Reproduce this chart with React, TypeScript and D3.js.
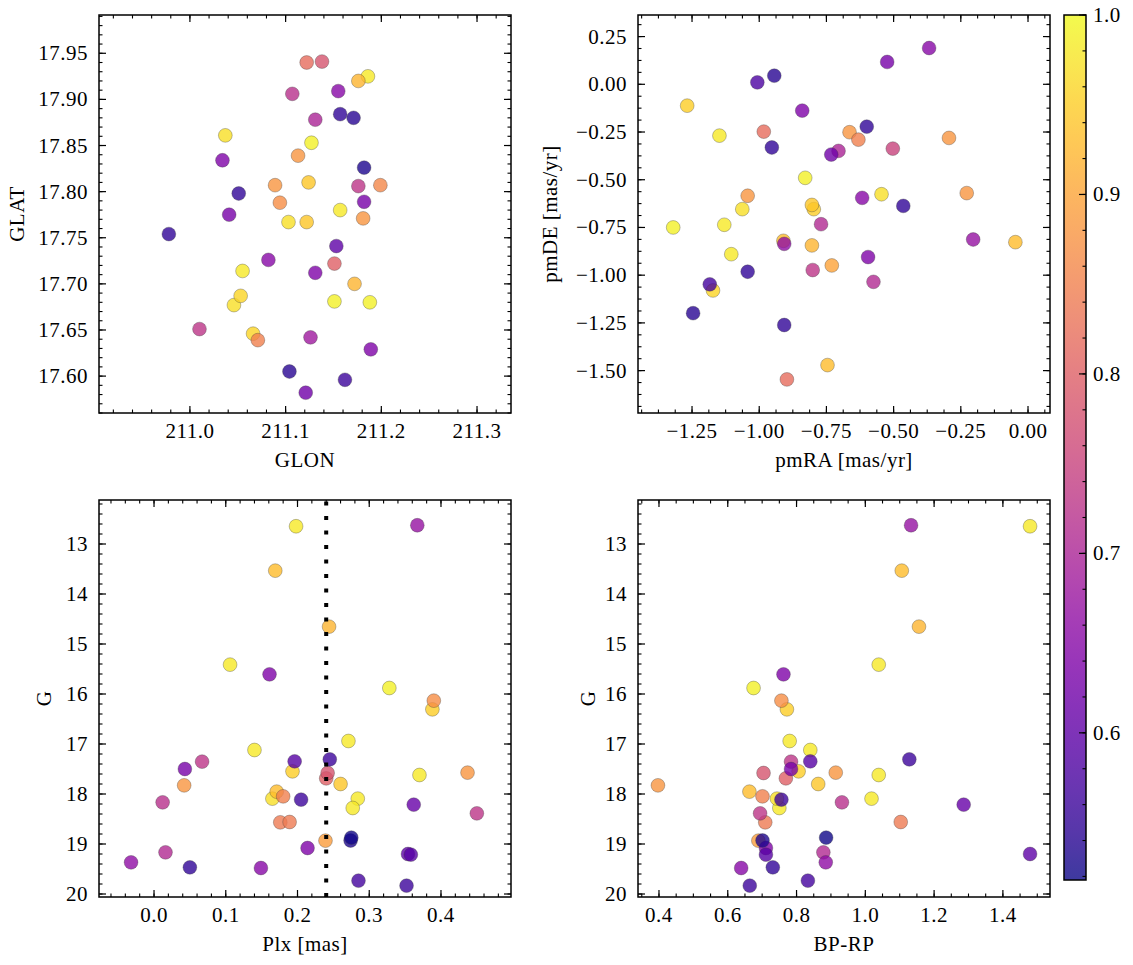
import * as d3 from "d3";

// ---- sky positions (top left) ----
const glon = [
  211.122, 211.138, 211.186, 211.176, 211.107, 211.155, 211.157, 211.171, 211.131, 211.037,
  211.127, 211.113, 211.034, 211.182, 211.089, 211.124, 211.176, 211.199, 211.051, 211.094,
  211.182, 211.041, 211.157, 211.103, 211.122, 211.181, 210.978, 211.153, 211.082, 211.151,
  211.055, 211.131, 211.172, 211.053, 211.046, 211.151, 211.188, 211.01, 211.066, 211.071,
  211.126, 211.189, 211.104, 211.162, 211.121,
];
const glat = [
  17.94, 17.941, 17.925, 17.92, 17.906, 17.909, 17.884, 17.88, 17.878, 17.861,
  17.853, 17.839, 17.834, 17.826, 17.807, 17.81, 17.806, 17.807, 17.798, 17.788,
  17.789, 17.775, 17.78, 17.767, 17.767, 17.771, 17.754, 17.741, 17.726, 17.722,
  17.714, 17.712, 17.7, 17.687, 17.677, 17.681, 17.68, 17.651, 17.646, 17.639,
  17.642, 17.629, 17.605, 17.596, 17.582,
];
const probSky = [
  0.82, 0.78, 0.98, 0.92, 0.72, 0.65, 0.55, 0.54, 0.7, 0.97,
  0.99, 0.88, 0.64, 0.53, 0.88, 0.94, 0.73, 0.86, 0.55, 0.87,
  0.63, 0.63, 0.98, 0.97, 0.94, 0.88, 0.55, 0.6, 0.65, 0.8,
  0.98, 0.64, 0.92, 0.96, 0.97, 0.99, 0.99, 0.73, 0.96, 0.85,
  0.68, 0.64, 0.54, 0.56, 0.62,
];

// ---- proper motions (top right) ----
const pmra = [
  -0.368, -0.524, -0.944, -1.007, -1.268, -0.84, -0.6, -1.148, -0.983, -0.664,
  -0.631, -0.294, -0.953, -0.503, -0.705, -0.732, -0.829, -1.043, -0.545, -0.228,
  -0.617, -0.464, -1.063, -0.804, -0.797, -1.32, -1.13, -0.77, -0.91, -0.907,
  -0.804, -0.204, -0.047, -1.104, -0.595, -0.73, -0.801, -1.043, -0.575, -1.184,
  -1.172, -1.246, -0.907, -0.746, -0.897,
];
const pmde = [
  0.19, 0.117, 0.045, 0.01, -0.112, -0.138, -0.222, -0.269, -0.248, -0.251,
  -0.29, -0.281, -0.331, -0.337, -0.349, -0.368, -0.49, -0.584, -0.576, -0.57,
  -0.595, -0.637, -0.654, -0.632, -0.654, -0.75, -0.736, -0.733, -0.82, -0.836,
  -0.844, -0.813, -0.827, -0.89, -0.905, -0.949, -0.973, -0.982, -1.035, -1.048,
  -1.08, -1.199, -1.261, -1.471, -1.546,
];
const probPm = [
  0.65, 0.63, 0.54, 0.58, 0.95, 0.64, 0.55, 0.98, 0.82, 0.88,
  0.85, 0.88, 0.55, 0.75, 0.7, 0.62, 0.99, 0.88, 0.97, 0.88,
  0.65, 0.55, 0.97, 0.94, 0.95, 0.99, 0.98, 0.71, 0.93, 0.66,
  0.92, 0.67, 0.93, 0.98, 0.64, 0.9, 0.73, 0.55, 0.71, 0.57,
  0.96, 0.54, 0.55, 0.93, 0.82,
];

// ---- photometry / parallax (bottom row, same stars) ----
const plx = [
  0.198, 0.367, 0.169, 0.244, 0.106, 0.161, 0.328, 0.39, 0.388, 0.271,
  0.14, 0.067, 0.196, 0.245, 0.043, 0.193, 0.242, 0.24, 0.37, 0.437,
  0.26, 0.042, 0.171, 0.165, 0.18, 0.205, 0.284, 0.277, 0.012, 0.362,
  0.45, 0.176, 0.189, 0.239, 0.275, 0.274, 0.214, 0.016, 0.354, 0.358,
  -0.032, 0.05, 0.149, 0.285, 0.352,
];
const gmag = [
  12.645, 12.625, 13.533, 14.653, 15.413, 15.607, 15.88, 16.133, 16.307, 16.94,
  17.12, 17.353, 17.347, 17.307, 17.5, 17.547, 17.58, 17.687, 17.62, 17.573,
  17.8, 17.827, 17.953, 18.093, 18.047, 18.113, 18.093, 18.28, 18.167, 18.213,
  18.387, 18.567, 18.56, 18.933, 18.873, 18.93, 19.08, 19.167, 19.2, 19.213,
  19.367, 19.467, 19.48, 19.733, 19.833,
];
const bprp = [
  1.479, 1.133, 1.106, 1.156, 1.039, 0.762, 0.675, 0.756, 0.772, 0.78,
  0.84, 0.784, 0.84, 1.128, 0.784, 0.806, 0.704, 0.769, 1.039, 0.914,
  0.863, 0.397, 0.663, 0.743, 0.701, 0.756, 1.018, 0.75, 0.932, 1.286,
  0.694, 0.709, 1.103, 0.689, 0.886, 0.701, 0.711, 0.878, 1.479, 0.711,
  0.885, 0.731, 0.639, 0.833, 0.664,
];
const probCmd = [
  0.98, 0.67, 0.93, 0.92, 0.98, 0.64, 0.99, 0.87, 0.95, 0.98,
  0.98, 0.73, 0.59, 0.56, 0.63, 0.95, 0.78, 0.8, 0.98, 0.88,
  0.94, 0.88, 0.93, 0.97, 0.85, 0.56, 0.98, 0.98, 0.72, 0.61,
  0.73, 0.84, 0.84, 0.89, 0.52, 0.53, 0.64, 0.71, 0.6, 0.59,
  0.66, 0.55, 0.65, 0.57, 0.56,
];

const plxCut = 0.24;

const glonTicks = [211.0, 211.1, 211.2, 211.3];
const glatTicks = [17.6, 17.65, 17.7, 17.75, 17.8, 17.85, 17.9, 17.95];
const pmraTicks = [-1.25, -1.0, -0.75, -0.5, -0.25, 0.0];
const pmdeTicks = [-1.5, -1.25, -1.0, -0.75, -0.5, -0.25, 0.0, 0.25];
const plxTicks = [0.0, 0.1, 0.2, 0.3, 0.4];
const gTicks = [13, 14, 15, 16, 17, 18, 19, 20];
const bprpTicks = [0.4, 0.6, 0.8, 1.0, 1.2, 1.4];
const probTicks = [0.6, 0.7, 0.8, 0.9, 1.0];

const PROB_MIN = 0.518;
const PROB_MAX = 1.0;

const FONT = "'Liberation Serif', 'Times New Roman', serif";
const FS = 21;
const LS = 0.5;
const MAJ = 7;
const MIN = 3.5;

const color = d3.scaleSequential(d3.interpolatePlasma).domain([PROB_MIN, PROB_MAX]);

function minorTicks(domain: number[], step: number) {
  const lo = Math.min(domain[0], domain[1]);
  const hi = Math.max(domain[0], domain[1]);
  const out: number[] = [];
  for (let i = Math.ceil(lo / step - 1e-9); i <= Math.floor(hi / step + 1e-9); i++) out.push(i * step);
  return out;
}

type Pt = { x: number; y: number; p: number };

interface PanelProps {
  box: [number, number, number, number]; // left, top, right, bottom
  xDomain: [number, number];
  yDomain: [number, number];
  xTicks: number[];
  yTicks: number[];
  xMinor: number;
  yMinor: number;
  xFmt: (v: number) => string;
  yFmt: (v: number) => string;
  xLabel: string;
  yLabel: string;
  yLabelX: number;
  points: Pt[];
  vline?: number;
}

function Panel(props: PanelProps) {
  const [l, t, r, b] = props.box;
  const x = d3.scaleLinear().domain(props.xDomain).range([l, r]);
  const y = d3.scaleLinear().domain(props.yDomain).range([b, t]);
  // low-probability stars end up on top
  const pts = [...props.points].sort((a, c) => c.p - a.p);
  const xm = minorTicks(props.xDomain, props.xMinor);
  const ym = minorTicks(props.yDomain, props.yMinor);

  return (
    <g>
      {pts.map((d, i) => (
        <circle
          key={i}
          cx={x(d.x)}
          cy={y(d.y)}
          r={6.9}
          fill={color(d.p)}
          fillOpacity={0.8}
          stroke="#3a3a3a"
          strokeOpacity={0.55}
          strokeWidth={0.6}
        />
      ))}
      {props.vline !== undefined && (
        <line
          x1={x(props.vline)}
          x2={x(props.vline)}
          y1={b}
          y2={t}
          stroke="#000"
          strokeWidth={4}
          strokeDasharray="4 10.5"
        />
      )}
      {xm.map((v, i) => (
        <g key={"xm" + i}>
          <line x1={x(v)} x2={x(v)} y1={b} y2={b - MIN} stroke="#000" strokeWidth={1.1} />
          <line x1={x(v)} x2={x(v)} y1={t} y2={t + MIN} stroke="#000" strokeWidth={1.1} />
        </g>
      ))}
      {ym.map((v, i) => (
        <g key={"ym" + i}>
          <line x1={l} x2={l + MIN} y1={y(v)} y2={y(v)} stroke="#000" strokeWidth={1.1} />
          <line x1={r} x2={r - MIN} y1={y(v)} y2={y(v)} stroke="#000" strokeWidth={1.1} />
        </g>
      ))}
      {props.xTicks.map((v, i) => (
        <g key={"xt" + i}>
          <line x1={x(v)} x2={x(v)} y1={b} y2={b - MAJ} stroke="#000" strokeWidth={1.2} />
          <line x1={x(v)} x2={x(v)} y1={t} y2={t + MAJ} stroke="#000" strokeWidth={1.2} />
          <text x={x(v)} y={b + 25} textAnchor="middle" fontSize={FS} letterSpacing={LS} fontFamily={FONT}>
            {props.xFmt(v)}
          </text>
        </g>
      ))}
      {props.yTicks.map((v, i) => (
        <g key={"yt" + i}>
          <line x1={l} x2={l + MAJ} y1={y(v)} y2={y(v)} stroke="#000" strokeWidth={1.2} />
          <line x1={r} x2={r - MAJ} y1={y(v)} y2={y(v)} stroke="#000" strokeWidth={1.2} />
          <text x={l - 11} y={y(v) + 7} textAnchor="end" fontSize={FS} letterSpacing={LS} fontFamily={FONT}>
            {props.yFmt(v)}
          </text>
        </g>
      ))}
      <rect x={l} y={t} width={r - l} height={b - t} fill="none" stroke="#000" strokeWidth={1.5} />
      <text x={(l + r) / 2} y={b + 54} textAnchor="middle" fontSize={FS} letterSpacing={LS} fontFamily={FONT}>
        {props.xLabel}
      </text>
      <text
        transform={`translate(${props.yLabelX},${(t + b) / 2}) rotate(-90)`}
        textAnchor="middle"
        fontSize={FS}
        letterSpacing={LS}
        fontFamily={FONT}
      >
        {props.yLabel}
      </text>
    </g>
  );
}

function Colorbar({ box }: { box: [number, number, number, number] }) {
  const [l, t, r, b] = box;
  const y = d3.scaleLinear().domain([PROB_MIN, PROB_MAX]).range([b, t]);
  const stops = d3.range(0, 1.0001, 0.05);
  const minors = minorTicks([PROB_MIN, PROB_MAX], 0.02);
  return (
    <g>
      <defs>
        <linearGradient id="plasmaBar" x1="0" y1="1" x2="0" y2="0">
          {stops.map((s, i) => (
            <stop key={i} offset={s} stopColor={d3.interpolatePlasma(s)} stopOpacity={0.8} />
          ))}
        </linearGradient>
      </defs>
      <rect x={l} y={t} width={r - l} height={b - t} fill="url(#plasmaBar)" />
      {minors.map((v, i) => (
        <line key={"cm" + i} x1={r} x2={r - MIN} y1={y(v)} y2={y(v)} stroke="#000" strokeWidth={1.1} />
      ))}
      {probTicks.map((v, i) => (
        <g key={"ct" + i}>
          <line x1={r} x2={r - MAJ} y1={y(v)} y2={y(v)} stroke="#000" strokeWidth={1.2} />
          <text x={r + 7} y={y(v) + 7} fontSize={FS} letterSpacing={LS} fontFamily={FONT}>
            {d3.format(".1f")(v)}
          </text>
        </g>
      ))}
      <rect x={l} y={t} width={r - l} height={b - t} fill="none" stroke="#000" strokeWidth={1.5} />
    </g>
  );
}

export default function App() {
  const sky = glon.map((v, i) => ({ x: v, y: glat[i], p: probSky[i] }));
  const pm = pmra.map((v, i) => ({ x: v, y: pmde[i], p: probPm[i] }));
  const plxG = plx.map((v, i) => ({ x: v, y: gmag[i], p: probCmd[i] }));
  const cmd = bprp.map((v, i) => ({ x: v, y: gmag[i], p: probCmd[i] }));
  const f1 = d3.format(".1f");
  const f2 = d3.format(".2f");
  const f0 = d3.format("d");

  return (
    <svg
      width={1133}
      height={965}
      style={{ position: "absolute", left: 0, top: 0, background: "#fff" }}
    >
      <rect width={1133} height={965} fill="#fff" />
      <Panel
        box={[99, 15, 511, 413]}
        xDomain={[210.905, 211.3355]}
        yDomain={[17.56, 17.9915]}
        xTicks={glonTicks}
        yTicks={glatTicks}
        xMinor={0.02}
        yMinor={0.01}
        xFmt={f1}
        yFmt={f2}
        xLabel="GLON"
        yLabel="GLAT"
        yLabelX={24}
        points={sky}
      />
      <Panel
        box={[638, 15, 1050, 413]}
        xDomain={[-1.451, 0.0818]}
        yDomain={[-1.722, 0.363]}
        xTicks={pmraTicks}
        yTicks={pmdeTicks}
        xMinor={0.0625}
        yMinor={0.0625}
        xFmt={f2}
        yFmt={f2}
        xLabel="pmRA [mas/yr]"
        yLabel="pmDE [mas/yr]"
        yLabelX={557}
        points={pm}
      />
      <Panel
        box={[99, 500, 511, 897]}
        xDomain={[-0.0767, 0.4976]}
        yDomain={[20.06, 12.12]}
        xTicks={plxTicks}
        yTicks={gTicks}
        xMinor={0.02}
        yMinor={0.2}
        xFmt={f1}
        yFmt={f0}
        xLabel="Plx [mas]"
        yLabel="G"
        yLabelX={51}
        points={plxG}
        vline={plxCut}
      />
      <Panel
        box={[638, 500, 1050, 897]}
        xDomain={[0.339, 1.537]}
        yDomain={[20.06, 12.12]}
        xTicks={bprpTicks}
        yTicks={gTicks}
        xMinor={0.05}
        yMinor={0.2}
        xFmt={f1}
        yFmt={f0}
        xLabel="BP-RP"
        yLabel="G"
        yLabelX={595}
        points={cmd}
      />
      <Colorbar box={[1064, 15, 1086, 880]} />
    </svg>
  );
}
